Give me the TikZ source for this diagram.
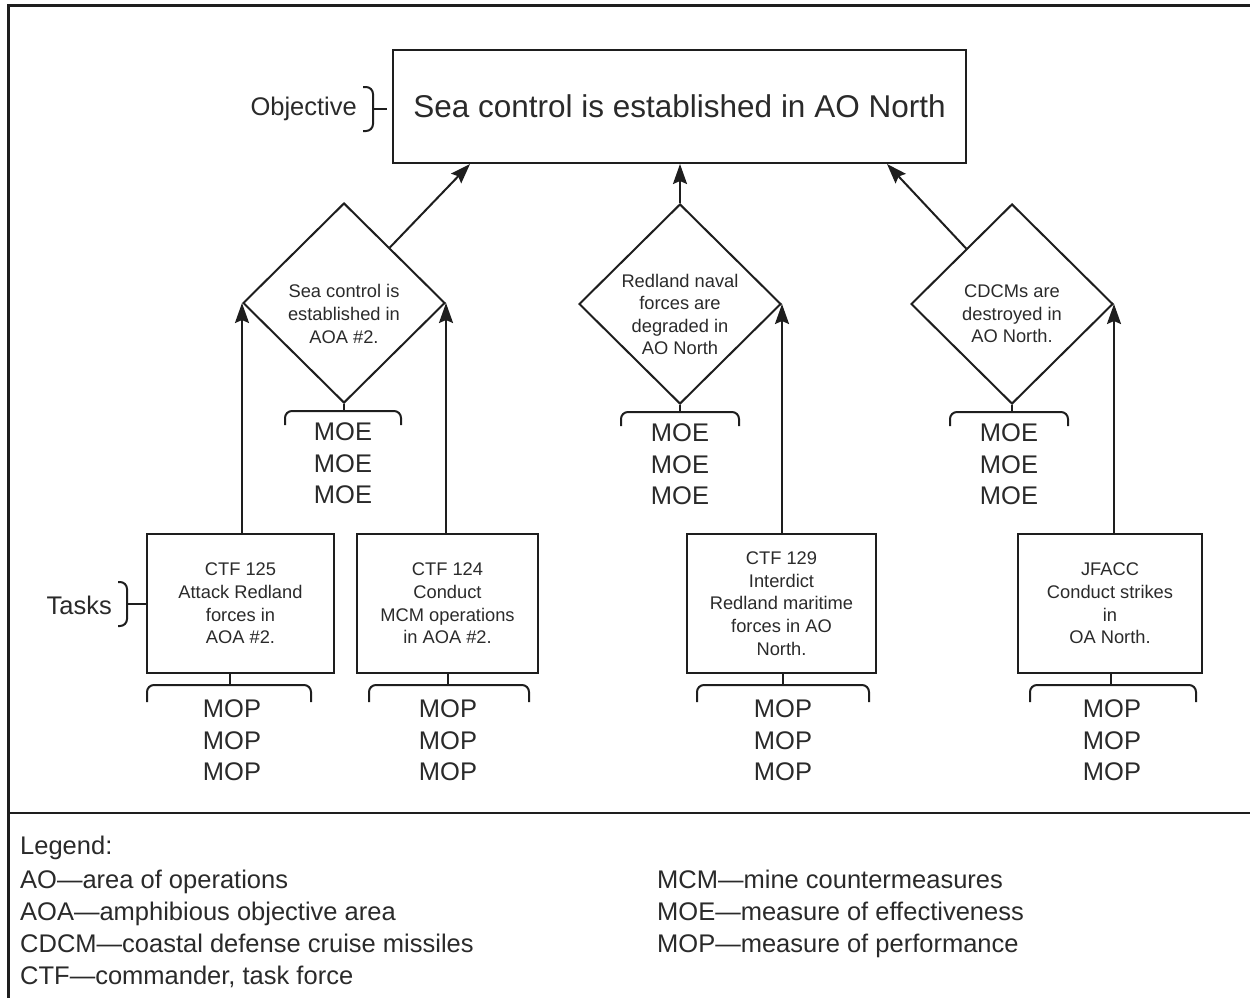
\documentclass[tikz,border=0pt]{standalone}
\usepackage{fontspec}
\setmainfont{Liberation Sans}
\usetikzlibrary{shapes.geometric,arrows.meta,calc}
\definecolor{ink}{HTML}{1E1E1E}
\definecolor{txt}{HTML}{2A2A2A}
\begin{document}
\begin{tikzpicture}[x=1pt,y=-1pt,
  ln/.style={draw=ink,line width=2pt},
  arr/.style={ln,-{Stealth[length=20pt,width=14pt,inset=3pt]}},
  brc/.style={ln,rounded corners=7pt},
  box/.style={ln,rectangle,inner sep=0pt,text=txt,align=center},
  dia/.style={ln,diamond,inner sep=0pt,minimum width=202pt,minimum height=200pt},
  small/.style={text=txt,align=center,inner sep=0pt,font=\fontsize{18.3}{22.6}\selectfont},
  meas/.style={text=txt,align=center,inner sep=0pt,font=\fontsize{25.5}{31.6}\selectfont},
  side/.style={text=txt,inner sep=0pt,anchor=base east,font=\fontsize{25.5}{30}\selectfont},
  leg/.style={text=txt,inner sep=0pt,anchor=base west,font=\fontsize{25.5}{30}\selectfont}]
\clip (0,0) rectangle (1250,998);
\useasboundingbox (0,0) rectangle (1250,998);

% frame and legend separator
\draw[draw=ink,line width=3pt] (8,1010) -- (8,6) -- (1260,6);
\draw[draw=ink,line width=2.6pt] (8,813) -- (1260,813);

% objective
\node[box,minimum width=573pt,minimum height=113pt,font=\fontsize{31.5}{36}\selectfont]
  (obj) at (679.5,106.5) {Sea control is established in AO North};
\node[side] (objl) at (357,115.5) {Objective};
\draw[brc] (363,87) -- (373,87) -- (373,131) -- (363,131);
\draw[ln] (373,109) coordinate (objb) -- ($(obj.west |- objb)+(-5,0)$);

% effects
\node[dia] (d1) at (344,303) {};
\node[dia] (d2) at (680,304) {};
\node[dia] (d3) at (1012,304) {};
\node[small] (d1t) at (344,314) {Sea control is\\established in\\AOA \#2.};
\node[small] (d2t) at (680,314.5) {Redland naval\\forces are\\degraded in\\AO North};
\node[small] (d3t) at (1012,314) {CDCMs are\\destroyed in\\AO North.};

% tasks
\node[box,minimum width=187pt,minimum height=139pt] (t1) at (240.5,603.5) {};
\node[box,minimum width=181pt,minimum height=139pt] (t2) at (447.5,603.5) {};
\node[box,minimum width=189pt,minimum height=139pt] (t3) at (781.5,603.5) {};
\node[box,minimum width=184pt,minimum height=139pt] (t4) at (1110,603.5) {};
\node[small] (t1t) at (t1.center) {CTF 125\\Attack Redland\\forces in\\AOA \#2.};
\node[small] (t2t) at (t2.center) {CTF 124\\Conduct\\MCM operations\\in AOA \#2.};
\node[small] (t3t) at (t3.center) {CTF 129\\Interdict\\Redland maritime\\forces in AO\\North.};
\node[small] (t4t) at (t4.center) {JFACC\\Conduct strikes\\in\\OA North.};
\node[side] (tl) at (112,614) {Tasks};
\draw[brc] (118,582) -- (127,582) -- (127,626) -- (118,626);
\draw[ln] (127,604) coordinate (tb) -- (t1.west |- tb);

% links up the hierarchy
\draw[arr] (t1.north -| d1.west) -- (d1.west);
\draw[arr] (t2.north -| d1.east) -- (d1.east);
\draw[arr] (t3.north -| d2.east) -- (d2.east);
\draw[arr] (t4.north -| d3.east) -- (d3.east);
\draw[arr] (d2.north) -- (obj.south -| d2.north);
\path (obj.south west) ++(78,0) coordinate (o1);
\path (obj.south east) ++(-80,0) coordinate (o3);
\draw[arr] ($(d1.north)!0.45!(d1.east)$) -- (o1);
\draw[arr] ($(d3.north)!0.45!(d3.west)$) -- (o3);

% measures of effectiveness
\draw[ln] (d1.south) -- ++(0,7) coordinate (e1);
\draw[ln] (d2.south) -- ++(0,7) coordinate (e2);
\draw[ln] (d3.south) -- ++(0,7) coordinate (e3);
\draw[brc] ($(e1)+(-59,14)$) -- ($(e1)+(-59,0)$) -- ($(e1)+(57,0)$) -- ($(e1)+(57,14)$);
\draw[brc] ($(e2)+(-59,14)$) -- ($(e2)+(-59,0)$) -- ($(e2)+(59,0)$) -- ($(e2)+(59,14)$);
\draw[brc] ($(e3)+(-62,14)$) -- ($(e3)+(-62,0)$) -- ($(e3)+(56,0)$) -- ($(e3)+(56,14)$);
\node[meas] (m1) at ($(e1)+(-1,52.5)$) {MOE\\MOE\\MOE};
\node[meas] (m2) at ($(e2)+(0,52.5)$) {MOE\\MOE\\MOE};
\node[meas] (m3) at ($(e3)+(-3,52.5)$) {MOE\\MOE\\MOE};

% measures of performance
\path (t1.south) ++(-10.5,0) coordinate (s1);
\path (t2.south) ++(0.5,0) coordinate (s2);
\path (t3.south) ++(1.5,0) coordinate (s3);
\path (t4.south) ++(1,0) coordinate (s4);
\draw[ln] (s1) -- ++(0,11) coordinate (p1);
\draw[ln] (s2) -- ++(0,11) coordinate (p2);
\draw[ln] (s3) -- ++(0,11) coordinate (p3);
\draw[ln] (s4) -- ++(0,11) coordinate (p4);
\draw[brc] ($(p1)+(-83,17)$) -- ($(p1)+(-83,0)$) -- ($(p1)+(81,0)$) -- ($(p1)+(81,17)$);
\draw[brc] ($(p2)+(-79,17)$) -- ($(p2)+(-79,0)$) -- ($(p2)+(81,0)$) -- ($(p2)+(81,17)$);
\draw[brc] ($(p3)+(-86,17)$) -- ($(p3)+(-86,0)$) -- ($(p3)+(86,0)$) -- ($(p3)+(86,17)$);
\draw[brc] ($(p4)+(-81,17)$) -- ($(p4)+(-81,0)$) -- ($(p4)+(85,0)$) -- ($(p4)+(85,17)$);
\node[meas] (q1) at ($(p1)+(2,55.5)$) {MOP\\MOP\\MOP};
\node[meas] (q2) at ($(p2)+(0,55.5)$) {MOP\\MOP\\MOP};
\node[meas] (q3) at ($(p3)+(0,55.5)$) {MOP\\MOP\\MOP};
\node[meas] (q4) at ($(p4)+(1,55.5)$) {MOP\\MOP\\MOP};

% legend
\node[leg] (lg0) at (20,854) {Legend:};
\node[leg] (lg1) at (20,888) {AO—area of operations};
\node[leg] (lg2) at (20,920) {AOA—amphibious objective area};
\node[leg] (lg3) at (20,952) {CDCM—coastal defense cruise missiles};
\node[leg] (lg4) at (20,984) {CTF—commander, task force};
\node[leg] (lg5) at (657,888) {MCM—mine countermeasures};
\node[leg] (lg6) at (657,920) {MOE—measure of effectiveness};
\node[leg] (lg7) at (657,952) {MOP—measure of performance};
\end{tikzpicture}
\end{document}
